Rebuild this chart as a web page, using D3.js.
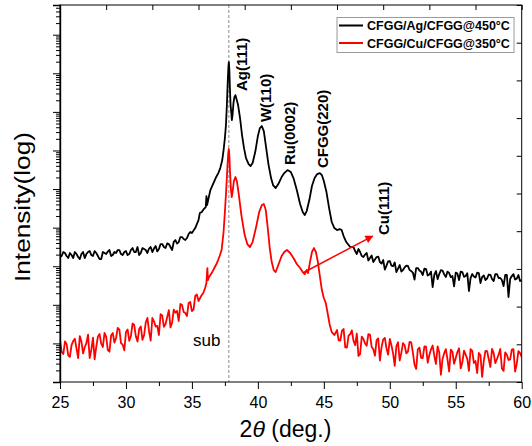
<!DOCTYPE html>
<html><head><meta charset="utf-8">
<script src="https://cdn.jsdelivr.net/npm/d3@7"></script>
<style>
body{margin:0;background:#fff}
svg{display:block}
text{font-family:Arial,"Liberation Sans",Helvetica,sans-serif;fill:#000}
</style>
</head><body>
<svg id="chart" width="532" height="446"></svg>
<script>
// ---------------- DATA ----------------
const scanStep = 0.25; // deg; "B" arrays are offset by half a step

// CFGG/Ag/CFGG@450°C  (black)
const agLowStart = 25;
const agLow = [1730,2335,1840,2200,1630,2070,1535,2335,2070,2475,1840,2200,1535,2335,2070,2630,1950,2200,2630,1950,
  2475,2070,2960,2335,1950,2960,2630,2875,2335,3335,2790,3760,2960,3760,2630,4775,4235,5710,4775,6825,7245];
const agLowB = [1840,2200,1630,1950,2335,1730,2070,1630,2335,1950,2475,1840,1535,2200,2400,1840,2335,2630,2070,2335,
  1950,2630,2335,3145,2200,2790,2200,3145,2875,2420,3760,3145,3890,3145,4300,3880,5710,5065,5380,7690];
const agPeakTheta = [35.25,35.5,35.6,35.75,35.9,36.05,36.1,36.15,36.4,36.6,36.8,37.0,37.15,37.3,37.4,37.5,37.58,37.65,37.72,37.77,
  37.8,37.84,37.88,37.93,37.98,38.03,38.08,38.15,38.22,38.3,38.4,38.5,38.65,38.8,38.95,39.1,39.3,39.45,39.6,39.8,
  40.0,40.15,40.3,40.45,40.6,40.8,41.0,41.15,41.35,41.55,41.8,42.0,42.25,42.5,42.7,42.95,43.2,43.4,43.55,43.7,
  43.9,44.1,44.3,44.5,44.7,44.85,45.0,45.2,45.4,45.6,45.8,46.0,46.2,46.35,46.5,46.7,47.0];
const agPeakI = [9760,15700,23900,25400,30300,34200,65900,38500,94200,135000,193000,260000,350000,564000,1.02e6,2.1e6,4.55e6,1.5e7,6.67e7,1.54e8,
  1.95e8,1.21e8,4.14e7,1.5e7,9.89e6,6.13e6,8.26e6,1.69e7,2.42e7,2.72e7,2.02e7,1.5e7,6.9e6,2.5e6,1.15e6,6.35e5,4.44e5,3.94e5,4.72e5,9.1e5,
  2.36e6,3.8e6,4.29e6,3.18e6,1.38e6,4.44e5,1.93e5,1.27e5,1.06e5,1.35e5,2.05e5,2.6e5,3.11e5,2.75e5,1.93e5,9.42e4,4.09e4,2.54e4,2.12e4,2.69e4,
  5.19e4,1.2e5,1.93e5,2.45e5,2.6e5,2.31e5,1.61e5,8.36e4,3.22e4,1.4e4,9760,8665,9200,8665,6060,4235,3145];
const agTailStart = 47.25;
const agTail = [3145,2070,2335,1730,2200,1630,1285,1730,1285,1450,1040,1365,1010,707,1075,797,1040,797,686,898,
  774,592,846,610,289,751,628,774,525,666,557,686,439,707,557,228,628,510,666,525,
  439,610,466,628,495,439,592,159,557,452,592,439];
const agTailB = [2475,2790,1840,2010,1410,1890,1490,1780,1175,821,1340,1040,1250,871,729,935,1025,750,450,898,
  720,871,575,725,600,463,790,615,725,522,300,650,722,532,660,490,545,680,368,580,
  480,600,413,628,495,307,592,466,625,475,413];

// CFGG/Cu/CFGG@350°C  (red)
const cuLowStart = 25;
const cuLow = [12.2,5.31,9.65,4.45,11.5,7.4,15.5,5.5,10.2,4.19,14.2,8.2,17.5,8.07,15.1,6.1,18.6,13.8,22.9,9.3,
  19.7,11.7,32.7,15.3,23.6,12.4,34.7,20.7,45.5,27.4,16.5,52.8,31.8,72.6,34.7,62.6,38.1,98.7,61.3,111,
  69.1,169,125];
const cuLowB = [6.0,11.2,4.9,9.0,13.3,4.15,11.1,7.95,16.9,6.8,3.85,15.2,9.85,18.7,6.7,16.1,10.5,25.2,10.2,6.6,
  23,15.4,30.1,11.2,27.6,16.4,45.7,11.8,37.2,28.5,57,26.9,48,26,75,69.6,105,65.1,51.3,118,
  75.6,185];
const cuPeakTheta = [35.7,35.86,36.0,36.1,36.17,36.22,36.3,36.5,36.7,36.9,37.1,37.25,37.4,37.5,37.6,37.7,37.76,37.8,37.84,37.89,
  37.95,38.02,38.1,38.18,38.3,38.42,38.55,38.75,39.0,39.2,39.4,39.6,39.85,40.1,40.3,40.45,40.6,40.75,40.9,41.05,
  41.2,41.35,41.55,41.8,42.0,42.2,42.45,42.7,42.95,43.2,43.4,43.55,43.7,43.8,43.95,44.1,44.25,44.4,44.55,44.7,
  44.85,45.0,45.15,45.3,45.45,45.6,45.8];
const cuPeakI = [169,202,272,367,898,439,525,666,898,1210,1840,2630,7690,25400,94200,4.19e5,9.1e5,1.09e6,7.6e5,2.75e5,
  1.06e5,62100,94200,1.61e5,2.05e5,1.52e5,74200,21200,6430,3760,3145,4235,9760,25400,38500,40900,28600,9760,2960,1285,
  797,707,1075,1840,2335,2630,2200,1630,1140,898,707,628,797,666,1285,2335,2960,2335,1285,557,
  242,150,111,57.8,30,19.7,16.5];
const cuTailStart = 46;
const cuTail = [22.2,11.9,23.6,7.8,17.5,11.7,18,5.25,13,8.7,17,7.1,12.2,3.6,12.6,7.5,13,5.5,8.56,3.6,
  10.2,5.5,10.9,5.8,2.18,7.8,4.19,8.3,5.0,8.8,2.93,5.8,3.95,7.1,1.87,6.1,4.19,7.5,3.2,5.1,
  1.93,6.4,3.5,5.65,1.35,6.4,3.95,7.2,3.1,5.1,2.24,5.85,3.72,6.9,1.87,6.3,4.45];
const cuTailB = [12.0,21.3,7.9,15.8,21.7,9.0,4.75,15,10,17.4,8.1,4.8,13.5,8.0,13.9,5.1,8.95,2.63,10.7,5.7,
  8.95,6.1,10.7,2.8,7.05,4.25,8.4,3.15,7.05,4.8,8.4,1.54,5.6,3.85,6.9,2.95,5.95,2.25,6.5,3.97,
  7.15,3.1,1.71,5.0,3.5,6.35,2.45,5.6,3.95,7.15,1.94,5.1,3.85,7.1,2.95,5.6];

const seriesNames = ["CFGG/Ag/CFGG@450°C","CFGG/Cu/CFGG@350°C"];
const seriesColors = ["#000000","#ff0000"];
const xTickValues = [25,30,35,40,45,50,55,60];
const xMinorValues = [27.5,32.5,37.5,42.5,47.5,52.5,57.5];
const substrateTheta = 37.8;
const peakLabels = [
  {text:"Ag(111)",   theta:39.18, I:3.46e7},
  {text:"W(110)",    theta:41.0,  I:5.44e6},
  {text:"Ru(0002)",  theta:42.85, I:4.19e5},
  {text:"CFGG(220)", theta:45.3,  I:3.5e5},
  {text:"Cu(111)",   theta:49.94, I:6430}
];
const subLabel = {text:"sub", theta:35.08, I:8.56};
const cuArrow = {from:[43.4,667], to:[48.7,6060]};

// ---------------- BUILD ----------------
function scan(start, a, b){
  const out = [];
  a.forEach((v,i)=>out.push([start+i*scanStep, v]));
  b.forEach((v,i)=>out.push([start+(i+0.5)*scanStep, v]));
  return out.sort((p,q)=>p[0]-q[0]);
}
function build(lowStart, low, lowB, pt, pi, tailStart, tail, tailB){
  const peaks = pt.map((t,i)=>[t, pi[i]]);
  return scan(lowStart, low, lowB).concat(peaks, scan(tailStart, tail, tailB));
}
const agData = build(agLowStart, agLow, agLowB, agPeakTheta, agPeakI, agTailStart, agTail, agTailB);
const cuData = build(cuLowStart, cuLow, cuLowB, cuPeakTheta, cuPeakI, cuTailStart, cuTail, cuTailB);

const L=60, R=521.7, T=5, B=382;
const svg = d3.select("#chart");
const x = d3.scaleLinear().domain([25,60]).range([L,R]);
const y = d3.scaleLog().domain([1, Math.pow(10,9.77)]).range([B,T]);

svg.append("defs").append("clipPath").attr("id","clip")
  .append("rect").attr("x",L).attr("y",T).attr("width",R-L).attr("height",B-T);

// substrate dashed line
svg.append("line").attr("x1",x(substrateTheta)).attr("x2",x(substrateTheta))
  .attr("y1",T).attr("y2",B).attr("stroke","#8a8a8a").attr("stroke-width",1).attr("stroke-dasharray","3,2");

const line = d3.line().x(d=>x(d[0])).y(d=>y(d[1]));
const g = svg.append("g").attr("clip-path","url(#clip)");
g.append("path").datum(agData).attr("d",line).attr("fill","none")
  .attr("stroke",seriesColors[0]).attr("stroke-width",1.8).attr("stroke-linejoin","round");
g.append("path").datum(cuData).attr("d",line).attr("fill","none")
  .attr("stroke",seriesColors[1]).attr("stroke-width",1.8).attr("stroke-linejoin","round");

// frame
svg.append("rect").attr("x",L).attr("y",T).attr("width",R-L).attr("height",B-T)
  .attr("fill","none").attr("stroke","#000").attr("stroke-width",1);

// bottom axis
const xAxis = svg.append("g").attr("transform",`translate(0,${B})`)
  .call(d3.axisBottom(x).tickValues(xTickValues).tickSize(7).tickPadding(7.5).tickFormat(d3.format("d")));
xAxis.select(".domain").remove();
xAxis.selectAll("text").attr("font-size",16).attr("font-family","Arial, 'Liberation Sans', sans-serif");
const xMinor = svg.append("g").attr("transform",`translate(0,${B})`)
  .call(d3.axisBottom(x).tickValues(xMinorValues).tickSize(4).tickFormat(""));
xMinor.select(".domain").remove();

// left log axis
const yMajor = d3.range(0,10).map(d=>Math.pow(10,d));
const yMinor = [];
for(let d=0; d<10; d++) for(let k=2; k<=9; k++){ const v=k*Math.pow(10,d); if(v<=y.domain()[1]) yMinor.push(v); }
const yAxis = svg.append("g").attr("transform",`translate(${L},0)`)
  .call(d3.axisLeft(y).tickValues(yMajor).tickSize(7).tickFormat(""));
yAxis.select(".domain").attr("stroke-width",1.4);
const yAxisMin = svg.append("g").attr("transform",`translate(${L},0)`)
  .call(d3.axisLeft(y).tickValues(yMinor).tickSize(4).tickFormat(""));
yAxisMin.select(".domain").remove();

// top and right inward ticks (10 equal divisions)
const topScale = d3.scaleLinear().domain([0,10]).range([L,R]);
const rightScale = d3.scaleLinear().domain([0,10]).range([B,T]);
const topAx = svg.append("g").attr("transform",`translate(0,${T})`)
  .call(d3.axisTop(topScale).ticks(10).tickSize(-5).tickFormat(""));
topAx.select(".domain").remove();
const rightAx = svg.append("g").attr("transform",`translate(${R},0)`)
  .call(d3.axisRight(rightScale).ticks(10).tickSize(-5).tickFormat(""));
rightAx.select(".domain").remove();

// axis titles
svg.append("text").attr("transform","translate(30,207) rotate(-90)")
  .attr("text-anchor","middle").attr("font-size",22)
  .attr("textLength",150).attr("lengthAdjust","spacingAndGlyphs").text("Intensity(log)");
const xt = svg.append("text").attr("x",285.5).attr("y",437).attr("text-anchor","middle").attr("font-size",23);
xt.append("tspan").text("2");
xt.append("tspan").attr("font-style","italic").text("θ");
xt.append("tspan").text(" (deg.)");

// peak labels
peakLabels.forEach(p=>{
  svg.append("text").attr("transform",`translate(${x(p.theta)},${y(p.I)}) rotate(-90)`)
    .attr("font-size",15).attr("font-weight","bold").text(p.text);
});
svg.append("text").attr("x",x(subLabel.theta)).attr("y",y(subLabel.I))
  .attr("font-size",17).text(subLabel.text);

// arrow
svg.append("defs").append("marker").attr("id","ah").attr("viewBox","0 0 10 10")
  .attr("refX",9).attr("refY",5).attr("markerWidth",10).attr("markerHeight",8)
  .attr("markerUnits","userSpaceOnUse").attr("orient","auto")
  .append("path").attr("d","M0,0L10,5L0,10z").attr("fill","#ff0000");
svg.append("line").attr("x1",x(cuArrow.from[0])).attr("y1",y(cuArrow.from[1]))
  .attr("x2",x(cuArrow.to[0])).attr("y2",y(cuArrow.to[1]))
  .attr("stroke","#ff0000").attr("stroke-width",1.5).attr("marker-end","url(#ah)");

// legend
const lg = svg.append("g");
lg.append("rect").attr("x",337).attr("y",17.5).attr("width",177).attr("height",35)
  .attr("fill","#fff").attr("stroke","#9a9a9a").attr("stroke-width",1);
seriesNames.forEach((n,i)=>{
  const yy = 25.5 + i*17.5;
  lg.append("line").attr("x1",339).attr("x2",363).attr("y1",yy).attr("y2",yy)
    .attr("stroke",seriesColors[i]).attr("stroke-width",2);
  lg.append("text").attr("x",367).attr("y",yy+4.5).attr("font-size",12.5).attr("font-weight","bold").text(n);
});
</script>
</body></html>
